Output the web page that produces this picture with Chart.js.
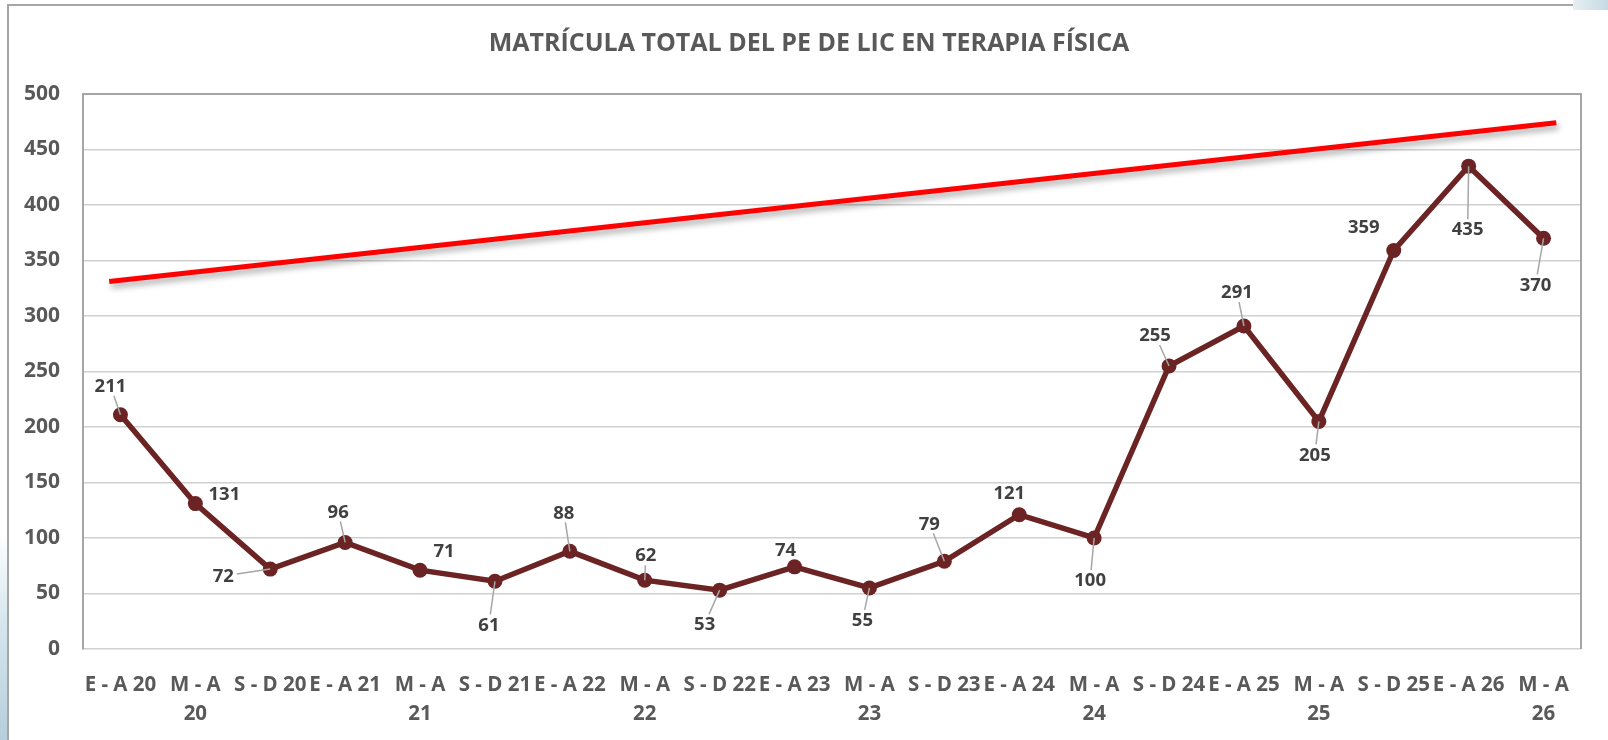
<!DOCTYPE html>
<html><head><meta charset="utf-8">
<script src="https://cdn.jsdelivr.net/npm/chart.js@4.4.0/dist/chart.umd.min.js"></script>
<style>
html,body{margin:0;padding:0;background:#fff;}
#wrap{position:relative;width:1608px;height:740px;overflow:hidden;background:#fff;}
#leftbg{position:absolute;left:0;top:0;width:7px;height:740px;background:linear-gradient(to bottom,#fff 0%,#fff 72%,#d6e6ee 84%,#b6cfdc 100%);}
#trbg{position:absolute;left:1573px;top:0;width:35px;height:10px;background:linear-gradient(to right,#e6eff3,#c6dae4);}
#frame{position:absolute;left:7px;top:4px;width:1566px;height:736px;border-left:2px solid #a6a6a6;border-top:2px solid #a6a6a6;box-sizing:border-box;}
canvas{position:absolute;left:0;top:0;}
</style></head>
<body>
<div id="wrap">
<div id="leftbg"></div><div id="trbg"></div><div id="frame"></div>
<canvas id="c" width="1608" height="740"></canvas>
</div>
<script>
const categories = [
  'E - A 20', ['M - A','20'], 'S - D 20',
  'E - A 21', ['M - A','21'], 'S - D 21',
  'E - A 22', ['M - A','22'], 'S - D 22',
  'E - A 23', ['M - A','23'], 'S - D 23',
  'E - A 24', ['M - A','24'], 'S - D 24',
  'E - A 25', ['M - A','25'], 'S - D 25',
  'E - A 26', ['M - A','26']
];
const matricula = [211,131,72,96,71,61,88,62,53,74,55,79,121,100,255,291,205,359,435,370];
const trendX = [-0.15, 19.17];
const trendY = [331, 474];
const yTicks = [0,50,100,150,200,250,300,350,400,450,500];
const titleText = 'MATRÍCULA TOTAL DEL PE DE LIC EN TERAPIA FÍSICA';

// label placement: [dx, dy, leader line]
const labelLayout = [
  [-10,-29,true],[29,-10,false],[-47,7,true],[-7,-31,true],[24,-19,false],
  [-6,43,true],[-6,-39,true],[1,-25,true],[-15,34,true],[-9,-17,false],
  [-7,32,true],[-15,-38,true],[-10,-22,false],[-4,42,true],[-14,-31,true],
  [-7,-34,true],[-4,33,true],[-30,-24,false],[-1,63,true],[-8,46,true]
];

const FONT = '"Open Sans", Lato, sans-serif';

const titleShift = {
  id:'titleShift',
  afterLayout(chart){ if(chart.titleBlock){ chart.titleBlock.left = 37; } }
};

const shadowPlugin = {
  id:'shadow',
  beforeDatasetDraw(chart,args){
    if(args.index===1){
      const ctx=chart.ctx; ctx.save();
      ctx.shadowColor='rgba(0,0,0,0.35)'; ctx.shadowBlur=6; ctx.shadowOffsetX=2; ctx.shadowOffsetY=4;
    }
  },
  afterDatasetDraw(chart,args){ if(args.index===1) chart.ctx.restore(); }
};

const framePlugin = {
  id:'plotFrame',
  afterDraw(chart){
    const {ctx, chartArea:a} = chart;
    ctx.save();
    ctx.strokeStyle='#A6A6A6'; ctx.lineWidth=2;
    ctx.beginPath();
    ctx.moveTo(a.left,a.top); ctx.lineTo(a.right,a.top); ctx.lineTo(a.right,a.bottom);
    ctx.stroke();
    ctx.restore();
  }
};

const labelPlugin = {
  id:'pointLabels',
  afterDatasetsDraw(chart,args,opts){
    const ctx=chart.ctx;
    const meta=chart.getDatasetMeta(0);
    ctx.save();
    ctx.font='bold 18.5px '+FONT;
    ctx.textAlign='center'; ctx.textBaseline='middle';
    meta.data.forEach((pt,i)=>{
      const [dx,dy,leader]=opts.layout[i];
      const lx=pt.x+dx, ly=pt.y+dy;
      const txt=String(chart.data.datasets[0].data[i]);
      const hw=ctx.measureText(txt).width/2+3, hh=10;
      if(leader){
        const vx=pt.x-lx, vy=pt.y-ly;
        const t=Math.min(vx?hw/Math.abs(vx):Infinity, vy?hh/Math.abs(vy):Infinity);
        ctx.strokeStyle='#A6A6A6'; ctx.lineWidth=1.5;
        ctx.beginPath(); ctx.moveTo(lx+vx*t,ly+vy*t); ctx.lineTo(pt.x,pt.y); ctx.stroke();
      }
      ctx.fillStyle='#404040';
      ctx.fillText(txt,lx,ly+1);
    });
    ctx.restore();
  }
};

new Chart(document.getElementById('c'),{
  type:'line',
  data:{
    labels:categories,
    datasets:[
      {data:matricula, borderColor:'#6B2323', backgroundColor:'#6B2323', borderWidth:5.5,
       pointRadius:7.5, pointBackgroundColor:'#6B2323', pointBorderColor:'#6B2323', pointBorderWidth:0,
       tension:0, xAxisID:'x', order:0},
      {data:trendX.map((x,i)=>({x:x,y:trendY[i]})), borderColor:'#FF0000', borderWidth:5,
       pointRadius:0, xAxisID:'xt', order:1, borderCapStyle:'butt'}
    ]
  },
  options:{
    responsive:false, animation:false,
    layout:{padding:{left:0,right:27,top:0,bottom:0}},
    plugins:{
      legend:{display:false}, tooltip:{enabled:false},
      title:{display:true, text:titleText, color:'#595959',
        font:{family:FONT, size:25, weight:'bold', lineHeight:1.2},
        padding:{top:29, bottom:35}},
      pointLabels:{layout:labelLayout}
    },
    scales:{
      x:{type:'category', offset:true,
        grid:{display:false}, border:{display:false},
        ticks:{autoSkip:false, maxRotation:0, minRotation:0, color:'#595959', padding:13,
          font:{family:FONT, size:20.5, weight:'bold', lineHeight:1.45}},
        afterFit(s){ s.height=91; }
      },
      xt:{type:'linear', display:false, min:-0.5, max:19.5},
      y:{min:0, max:500,
        afterBuildTicks(s){ s.ticks = yTicks.map(v=>({value:v})); },
        grid:{color:'#D0D0D0', lineWidth:1.5, drawTicks:false},
        border:{display:true, color:'#A6A6A6', width:2},
        ticks:{color:'#595959', padding:23, font:{family:FONT, size:21, weight:'bold'}},
        afterFit(s){ s.width=83; }
      }
    }
  },
  plugins:[titleShift, shadowPlugin, framePlugin, labelPlugin]
});
</script>
</body></html>
